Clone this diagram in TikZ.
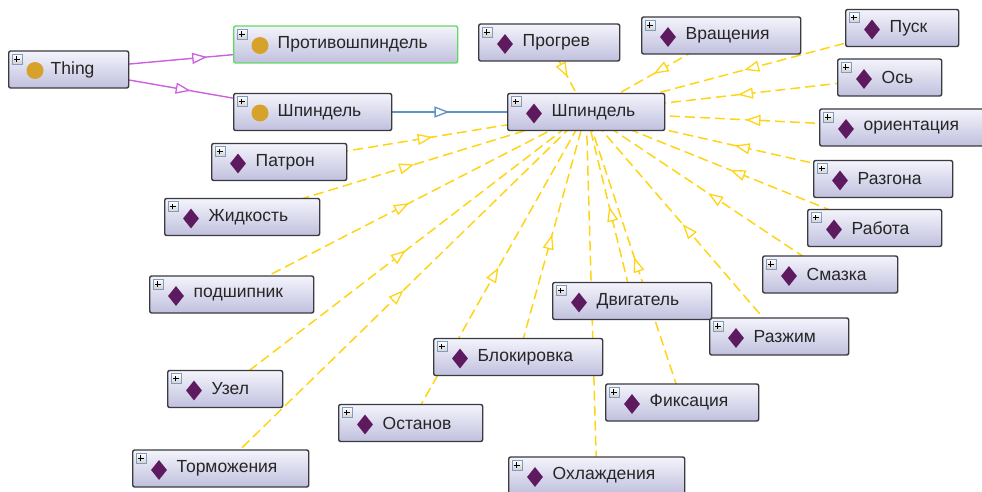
\documentclass[tikz,border=0pt]{standalone}
\usepackage{fontspec}
\setmainfont{Liberation Sans}
\usetikzlibrary{arrows.meta,shapes.geometric,decorations.markings,backgrounds}
\definecolor{BoxClr}{RGB}{58,58,64}
\definecolor{BoxTopClr}{RGB}{244,244,252}
\definecolor{BoxBotClr}{RGB}{192,192,222}
\definecolor{SelClr}{RGB}{100,216,100}
\definecolor{ClsClr}{RGB}{214,162,44}
\definecolor{IndClr}{RGB}{94,26,94}
\definecolor{IsaClr}{RGB}{204,96,222}
\definecolor{InstClr}{RGB}{96,146,196}
\definecolor{FactClr}{RGB}{255,212,20}
\definecolor{PlusClr}{RGB}{128,156,186}
\newcommand{\lbl}[1]{\hspace*{44pt}\raisebox{-1.5pt}{#1}}

\tikzset{
  box/.style={draw=BoxClr, line width=1.4pt, rounded corners=2pt,
    top color=BoxTopClr, bottom color=BoxBotClr, anchor=west,
    minimum height=37pt, inner xsep=0pt, inner ysep=0pt, align=left,
    font=\fontsize{17.5}{19}\selectfont, text=black!85},
  plusbox/.style={draw=PlusClr, line width=.7pt, top color=white,
    bottom color=black!18, minimum size=10pt, inner sep=0pt, anchor=north west,
    path picture={\draw[black, line width=1pt]
      ([xshift=-2.8pt]path picture bounding box.center) -- ([xshift=2.8pt]path picture bounding box.center)
      ([yshift=-2.8pt]path picture bounding box.center) -- ([yshift=2.8pt]path picture bounding box.center);}},
  clsdot/.style={circle, fill=ClsClr, minimum size=17pt, inner sep=0pt, anchor=center},
  gem/.style={diamond, fill=IndClr, minimum width=16pt, minimum height=20pt, inner sep=0pt, anchor=center},
  cls/.style={box, append after command={\pgfextra{\let\boxnode\tikzlastnode}
    ([shift={(3.5pt,-3.5pt)}]\boxnode.north west) node[plusbox]{}
    ([shift={(27pt,-1pt)}]\boxnode.west) node[clsdot]{}}},
  ind/.style={box, append after command={\pgfextra{\let\boxnode\tikzlastnode}
    ([shift={(3.5pt,-3.5pt)}]\boxnode.north west) node[plusbox]{}
    ([shift={(27pt,-1.5pt)}]\boxnode.west) node[gem]{}}},
  midtip/.style={postaction={decorate}, decoration={markings,
    mark=at position .5 with {\arrow{Triangle[color=#1, fill=white, length=15pt, width=11pt, line width=1.3pt]}}}},
  isa/.style={draw=IsaClr, line width=1.4pt, midtip=IsaClr},
  inst/.style={draw=InstClr, line width=1.4pt, midtip=InstClr},
  fact/.style={draw=FactClr, line width=1.5pt, dash pattern=on 10pt off 5pt, midtip=FactClr},
}

\begin{document}
\begin{tikzpicture}[x=1pt,y=-1pt]
\useasboundingbox (0,0) rectangle (982,492);

% classes
\node[cls, text width=120pt] (Thing) at (8,69.5) {\hspace*{42pt}\raisebox{-1.5pt}{Thing}};
\node[cls, draw=SelClr, text width=224pt] (Protiv) at (233,44.5) {\lbl{Противошпиндель}};
\node[cls, text width=158pt] (SpCls) at (233,112) {\lbl{Шпиндель}};

% individuals
\node[ind, text width=157pt] (Sp) at (507,112) {\lbl{Шпиндель}};
\node[ind, text width=141pt] (Progrev) at (478,42.5) {\lbl{Прогрев}};
\node[ind, text width=159pt] (Vrasch) at (641,35.5) {\lbl{Вращения}};
\node[ind, text width=113pt] (Pusk) at (845,28) {\lbl{Пуск}};
\node[ind, text width=104pt] (Os) at (837,77.5) {\lbl{Ось}};
\node[ind, text width=170pt] (Orient) at (819,127.5) {\lbl{ориентация}};
\node[ind, text width=139pt] (Razgon) at (813,179) {\lbl{Разгона}};
\node[ind, text width=134pt] (Rabota) at (807,228) {\lbl{Работа}};
\node[ind, text width=135pt] (Smazka) at (762,274.5) {\lbl{Смазка}};
\node[ind, text width=139pt] (Razzhim) at (709,336.5) {\lbl{Разжим}};
\node[ind, text width=159pt] (Dvig) at (552,301) {\lbl{Двигатель}};
\node[ind, text width=153pt] (Fiks) at (605,402.5) {\lbl{Фиксация}};
\node[ind, text width=176pt] (Ohl) at (508,475.5) {\lbl{Охлаждения}};
\node[ind, text width=169pt] (Blok) at (433,357) {\lbl{Блокировка}};
\node[ind, text width=144pt] (Ostanov) at (338,423) {\lbl{Останов}};
\node[ind, text width=176pt] (Torm) at (132,468.5) {\lbl{Торможения}};
\node[ind, text width=115pt] (Uzel) at (167,389) {\lbl{Узел}};
\node[ind, text width=164pt] (Podsh) at (149,294.5) {\lbl{подшипник}};
\node[ind, text width=155pt] (Zhid) at (164,217) {\lbl{Жидкость}};
\node[ind, text width=135pt] (Patron) at (211,162) {\lbl{Патрон}};

% links, under the boxes
\begin{scope}[on background layer]
\draw[isa] (Thing.center) -- (Protiv.center);
\draw[isa] (Thing.center) -- (SpCls.center);
\draw[inst] (SpCls.center) -- (Sp.center);
\foreach \n in {Progrev,Vrasch,Pusk,Os,Orient,Razgon,Rabota,Smazka,Razzhim,Dvig,
  Fiks,Ohl,Blok,Ostanov,Torm,Uzel,Podsh,Zhid,Patron}
  \draw[fact] (\n.center) -- (Sp.center);
\end{scope}

\end{tikzpicture}
\end{document}
